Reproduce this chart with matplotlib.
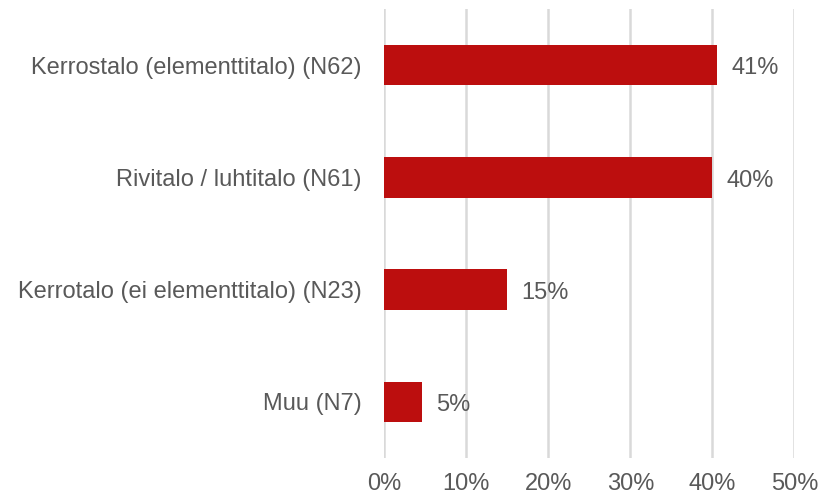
import matplotlib.pyplot as plt

categories = ["Kerrostalo (elementtitalo) (N62)", "Rivitalo / luhtitalo (N61)",
              "Kerrotalo (ei elementtitalo) (N23)", "Muu (N7)"]
values = [40.6, 40.0, 15.0, 4.6]
value_labels = ["41%", "40%", "15%", "5%"]
xticks = [0, 10, 20, 30, 40, 50]

plt.rcParams['font.family'] = ['Liberation Sans', 'DejaVu Sans']
text_color = "#595959"

fig = plt.figure(figsize=(8.19, 4.96), dpi=100)
ax = fig.add_axes([0.469, 0.0766, 0.501, 0.9054])

y = list(range(len(categories)))[::-1]
ax.barh(y, values, height=0.36, color="#BC0E0E", zorder=3)

for yi, v, lab in zip(y, values, value_labels):
    ax.text(v + 1.7, yi - 0.03, lab, va="center", ha="left", fontsize=17, color=text_color)

ax.set_xlim(0, 50)
ax.set_ylim(-0.5, 3.5)
ax.set_xticks(xticks)
ax.set_xticklabels([f"{t}%" for t in xticks], fontsize=17, color=text_color)
ax.set_yticks(y)
ax.set_yticklabels(categories, fontsize=17, color=text_color)
ax.tick_params(axis="both", length=0)
ax.tick_params(axis="x", pad=11)
ax.tick_params(axis="y", pad=16)
ax.grid(axis="x", color="#D9D9D9", linewidth=1.8, zorder=0)
for s in ax.spines.values():
    s.set_visible(False)

fig.savefig("out.png", dpi=100)
